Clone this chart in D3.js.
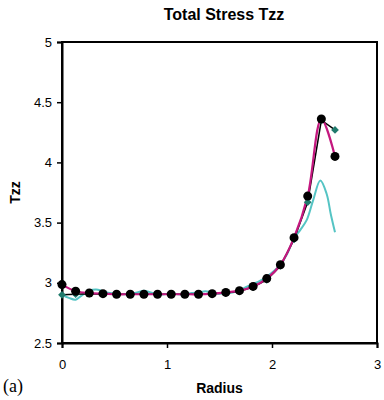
<!DOCTYPE html>
<html>
<head>
<meta charset="utf-8">
<script src="https://cdn.jsdelivr.net/npm/d3@7"></script>
<style>
body { margin: 0; background: #fff; }
text { font-family: "Liberation Sans", Arial, sans-serif; }
</style>
</head>
<body>
<div id="graph"></div>
<script>
var svgWidth = 384;
var svgHeight = 400;
var margin = { top: 42, right: 7, bottom: 57, left: 62 };
var chartWidth = svgWidth - margin.left - margin.right;
var chartHeight = svgHeight - margin.top - margin.bottom;

var titleText = "Total Stress Tzz";
var yAxisTitleText = "Tzz";
var xAxisTitleText = "Radius";

// radius positions of the marked points
var radius = [0, 0.13, 0.26, 0.39, 0.52, 0.65, 0.78, 0.91, 1.04, 1.17, 1.3,
	1.43, 1.56, 1.69, 1.82, 1.95, 2.08, 2.21, 2.34, 2.47, 2.6];

// black line with teal diamonds
var diamondVals = [2.90, 2.905, 2.91, 2.905, 2.905, 2.905, 2.905, 2.905, 2.905, 2.905, 2.905,
	2.91, 2.915, 2.93, 2.965, 3.025, 3.14, 3.36, 3.67, 4.35, 4.27];

// magenta curve with black circles
var circleVals = [2.985, 2.93, 2.915, 2.91, 2.905, 2.905, 2.905, 2.905, 2.905, 2.905, 2.905,
	2.91, 2.92, 2.935, 2.97, 3.035, 3.15, 3.375, 3.72, 4.36, 4.05];

// turquoise curve (finer resolution)
var cyanRadius = [0, 0.065, 0.13, 0.195, 0.26, 0.325, 0.39, 0.455, 0.52, 0.585, 0.65, 0.715,
	0.78, 0.845, 0.91, 0.975, 1.04, 1.105, 1.17, 1.235, 1.3, 1.365, 1.43, 1.495, 1.56, 1.625,
	1.69, 1.755, 1.82, 1.885, 1.95, 2.015, 2.08, 2.145, 2.21, 2.27, 2.33, 2.39, 2.46, 2.52, 2.56, 2.6];
var cyanVals = [2.90, 2.875, 2.86, 2.90, 2.935, 2.945, 2.93, 2.915, 2.91, 2.905, 2.91, 2.92,
	2.935, 2.92, 2.905, 2.905, 2.915, 2.905, 2.905, 2.915, 2.92, 2.93, 2.92, 2.91, 2.915, 2.92,
	2.94, 2.965, 2.99, 3.015, 3.05, 3.095, 3.15, 3.24, 3.37, 3.44, 3.52, 3.68, 3.85, 3.74, 3.57, 3.42];

var xTicks = [0, 1, 2, 3];
var yTicks = [2.5, 3, 3.5, 4, 4.5, 5];

var x = d3.scaleLinear().domain([0, 3]).range([0, chartWidth]);
var y = d3.scaleLinear().domain([2.5, 5]).range([chartHeight, 0]);

var svg = d3.select("#graph")
	.append("svg")
	.attr("width", svgWidth)
	.attr("height", svgHeight);

// chart title
svg.append("text")
	.attr("x", 224)
	.attr("y", 20)
	.attr("text-anchor", "middle")
	.attr("font-size", 16)
	.attr("font-weight", "bold")
	.text(titleText);

// y axis title
svg.append("text")
	.attr("transform", "translate(20," + (margin.top + chartHeight / 2) + ") rotate(-90)")
	.attr("text-anchor", "middle")
	.attr("font-size", 14)
	.attr("font-weight", "bold")
	.text(yAxisTitleText);

// x axis title
svg.append("text")
	.attr("x", margin.left + chartWidth / 2)
	.attr("y", 393)
	.attr("text-anchor", "middle")
	.attr("font-size", 14)
	.attr("font-weight", "bold")
	.text(xAxisTitleText);

// panel label
svg.append("text")
	.attr("x", 3)
	.attr("y", 392)
	.style("font-family", "'Liberation Serif', 'Times New Roman', serif")
	.attr("font-size", 18)
	.text("(a)");

var chartGroup = svg.append("g")
	.attr("transform", "translate(" + margin.left + "," + margin.top + ")");

// plot frame
chartGroup.append("rect")
	.attr("x", 0)
	.attr("y", 0)
	.attr("width", chartWidth)
	.attr("height", chartHeight)
	.attr("fill", "none")
	.attr("stroke", "#000")
	.attr("stroke-width", 2);

// axes
var xAxisGroup = chartGroup.append("g")
	.attr("transform", "translate(0," + chartHeight + ")")
	.call(d3.axisBottom(x).tickValues(xTicks).tickFormat(d3.format("d")).tickSizeOuter(0).tickSize(5).tickPadding(12));
var yAxisGroup = chartGroup.append("g")
	.call(d3.axisLeft(y).tickValues(yTicks).tickFormat(function(d) { return String(d); }).tickSizeOuter(0).tickSize(5).tickPadding(5));

[xAxisGroup, yAxisGroup].forEach(function(g) {
	g.select(".domain").attr("stroke-width", 2);
	g.selectAll(".tick line").attr("stroke-width", 1.5);
	g.selectAll(".tick text")
		.attr("font-size", 13)
		.attr("font-family", "'Liberation Sans', Arial, sans-serif")
		.attr("fill", "#000");
});

// turquoise curve
var cyanData = cyanRadius.map(function(r, i) { return [r, cyanVals[i]]; });
chartGroup.append("path")
	.datum(cyanData)
	.attr("fill", "none")
	.attr("stroke", "#55c4c4")
	.attr("stroke-width", 2)
	.attr("d", d3.line()
		.x(function(d) { return x(d[0]); })
		.y(function(d) { return y(d[1]); })
		.curve(d3.curveCatmullRom));

// black line through diamonds
var diamondData = radius.map(function(r, i) { return [r, diamondVals[i]]; });
chartGroup.append("path")
	.datum(diamondData)
	.attr("fill", "none")
	.attr("stroke", "#000")
	.attr("stroke-width", 1.5)
	.attr("d", d3.line()
		.x(function(d) { return x(d[0]); })
		.y(function(d) { return y(d[1]); }));

// magenta curve through circles
var circleData = radius.map(function(r, i) { return [r, circleVals[i]]; });
chartGroup.append("path")
	.datum(circleData)
	.attr("fill", "none")
	.attr("stroke", "#c4187f")
	.attr("stroke-width", 2.2)
	.attr("d", d3.line()
		.x(function(d) { return x(d[0]); })
		.y(function(d) { return y(d[1]); })
		.curve(d3.curveCatmullRom));

// diamonds
chartGroup.selectAll(".diamond")
	.data(diamondData)
	.enter().append("path")
	.attr("class", "diamond")
	.attr("transform", function(d) { return "translate(" + x(d[0]) + "," + y(d[1]) + ") rotate(45)"; })
	.attr("d", d3.symbol().type(d3.symbolSquare).size(30))
	.attr("fill", "#1f7a6c");

// circles
chartGroup.selectAll(".dot")
	.data(circleData)
	.enter().append("circle")
	.attr("class", "dot")
	.attr("cx", function(d) { return x(d[0]); })
	.attr("cy", function(d) { return y(d[1]); })
	.attr("r", 4.5)
	.attr("fill", "#000");
</script>
</body>
</html>
